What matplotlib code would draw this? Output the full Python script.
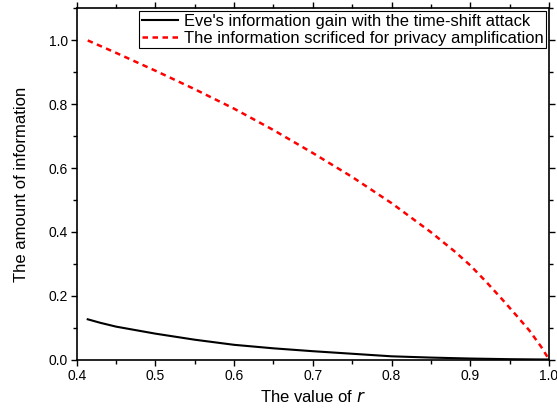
import matplotlib.pyplot as plt
from matplotlib.ticker import MultipleLocator

plt.rcParams['font.family'] = ['Liberation Sans', 'DejaVu Sans']

# values
r_eve = [0.414, 0.43, 0.45, 0.475, 0.5, 0.55, 0.6, 0.65, 0.7, 0.75, 0.8, 0.85, 0.9, 0.95, 0.98, 1.0]
eve_gain = [0.126, 0.115, 0.103, 0.092, 0.081, 0.062, 0.046, 0.035, 0.026, 0.018, 0.010,
            0.006, 0.003, 0.001, 0.0003, 0.0]

r_pa = [0.414, 0.45, 0.5, 0.55, 0.6, 0.65, 0.7, 0.75, 0.8, 0.85, 0.88, 0.9, 0.92,
        0.94, 0.96, 0.975, 0.99, 1.0]
pa_sacrificed = [1.0, 0.961, 0.905, 0.847, 0.786, 0.719, 0.647, 0.572, 0.49, 0.399,
                 0.339, 0.295, 0.244, 0.190, 0.134, 0.091, 0.040, 0.0]

fig = plt.figure(figsize=(5.57, 4.08), dpi=100)
ax = fig.add_axes([76.7 / 557, 1 - 359.5 / 408, (549 - 76.7) / 557, (359.5 - 8.5) / 408])

ax.plot(r_eve, eve_gain, color='black', lw=1.5,
        label="Eve's information gain with the time-shift attack")
ax.plot(r_pa, pa_sacrificed, color='red', lw=1.8, ls=(0, (2.2, 1.8)),
        label='The information scrificed for privacy amplification')

ax.set_xlim(0.4, 1.0)
ax.set_ylim(0.0, 1.1)
ax.xaxis.set_minor_locator(MultipleLocator(0.05))
ax.yaxis.set_minor_locator(MultipleLocator(0.1))
ax.set_xticks([0.4, 0.5, 0.6, 0.7, 0.8, 0.9, 1.0])
ax.set_xticklabels(['0.4', '0.5', '0.6', '0.7', '0.8', '0.9', '1.0'])
ax.set_yticks([0.0, 0.2, 0.4, 0.6, 0.8, 1.0])
ax.set_yticklabels(['0.0', '0.2', '0.4', '0.6', '0.8', '1.0'])

ax.tick_params(which='both', direction='out', top=True, right=True,
               labelsize=10, width=1.0, pad=2)
ax.tick_params(which='major', length=4.5)
ax.tick_params(which='minor', length=3)
for s in ax.spines.values():
    s.set_linewidth(1.2)

ax.set_xlabel('The value of $\\it{r}$', fontsize=12, labelpad=5)
ax.set_ylabel('The amount of information', fontsize=12, labelpad=14)

leg = ax.legend(loc='upper right', fontsize=11.9, frameon=True, fancybox=False,
                edgecolor='black', framealpha=1, borderpad=0.15, labelspacing=0.1,
                handlelength=2.2, handletextpad=0.35, borderaxespad=0.18)
leg.get_frame().set_linewidth(0.8)

fig.savefig('out.png', dpi=100)
